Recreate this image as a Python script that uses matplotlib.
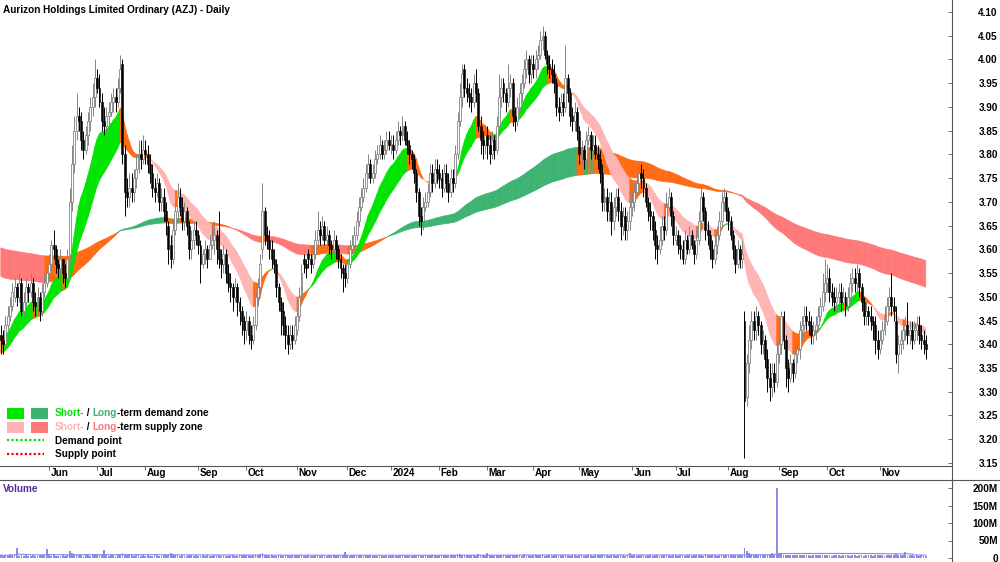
import numpy as np
import pandas as pd
import matplotlib
matplotlib.use("Agg")
import matplotlib.pyplot as plt
from matplotlib.collections import PolyCollection
from matplotlib import transforms

# ---------------- data (prices in cents, volume in millions) ----------------
title = "Aurizon Holdings Limited Ordinary (AZJ) - Daily"
start_date, end_date = "2023-05-03", "2024-11-29"
asx_holidays = ["2023-06-12", "2023-12-25", "2023-12-26", "2024-01-01", "2024-01-26",
                "2024-03-29", "2024-04-01", "2024-04-25", "2024-06-10"]

closes = [
    341,340,344,346,348,351,352,350,353,347,349,352,351,353,349,348,350,347,351,353,355,
    357,361,360,357,356,358,355,354,358,370,378,385,388,387,383,381,384,387,390,392,396,
    394,391,387,386,388,389,391,392,391,394,398,380,372,371,373,372,375,377,380,379,381,
    380,378,376,373,372,374,370,371,368,366,360,358,364,368,371,369,366,368,365,360,362,364,363,
    361,357,359,360,358,361,362,363,360,358,357,359,355,353,352,350,352,349,347,345,343,
    345,342,341,344,350,352,357,368,363,362,360,358,357,352,349,347,344,342,340,342,341,344,
    346,350,355,357,356,358,357,359,362,364,363,365,362,363,361,360,362,360,358,356,355,354,
    357,360,361,363,366,369,371,373,376,378,375,376,379,380,382,380,381,383,382,
    382,381,383,385,384,386,383,382,380,379,376,372,367,366,369,370,372,376,374,377,376,
    375,373,376,374,372,375,374,380,387,392,397,394,393,392,391,395,393,386,383,382,384,
    382,380,383,381,386,392,394,393,391,394,395,388,387,390,393,395,398,400,397,399,
    398,400,401,404,405,401,399,398,397,395,390,389,391,390,396,393,388,387,389,385,
    380,381,379,383,384,381,382,380,379,376,370,371,368,370,366,369,371,368,365,367,364,366,369,
    370,372,374,376,375,373,370,368,367,364,361,360,362,365,364,369,371,367,363,
    363,361,360,358,362,360,363,361,359,362,366,371,368,364,363,360,358,361,363,366,370,371,368,
    366,363,360,357,360,358,359,328,336,341,345,343,346,344,340,341,337,333,331,334,332,338,
    340,346,341,335,333,336,334,338,339,343,344,346,345,344,342,343,344,346,348,351,353,
    354,351,350,349,350,351,349,350,348,350,353,354,353,355,352,349,346,347,346,345,344,341,339,
    341,343,345,348,350,348,347,338,340,341,343,344,342,343,341,343,344,342,341,340,339,
]
opens = [
    342,341,340,344,346,348,350,352,350,353,347,349,352,351,353,349,348,350,347,351,353,
    355,357,361,360,357,356,358,355,354,359,370,378,385,388,387,383,381,384,387,390,392,
    396,394,391,387,386,388,389,391,392,391,394,399,380,372,371,373,372,375,377,380,379,
    381,380,378,376,373,372,374,370,371,368,365,361,358,364,368,371,369,366,368,365,360,362,364,
    363,361,357,359,360,358,361,362,363,360,358,357,359,355,353,352,350,352,349,347,345,
    343,345,342,341,344,350,352,360,368,363,362,360,358,357,352,349,347,344,342,340,342,341,
    343,346,350,358,357,359,358,357,359,362,364,363,365,362,363,361,360,362,360,358,356,355,
    354,357,360,361,363,366,369,371,373,376,378,375,376,379,380,382,380,381,383,
    382,382,381,383,385,384,386,383,382,380,379,376,372,367,366,369,370,372,376,374,377,
    376,375,373,376,374,372,375,374,380,387,392,398,394,393,392,391,395,393,386,383,382,
    384,382,380,383,381,386,392,395,393,391,394,395,388,387,390,393,395,398,400,397,
    399,398,400,401,404,405,401,399,398,397,395,390,389,391,390,396,393,388,387,389,
    385,380,381,379,383,384,381,382,380,379,376,370,371,368,370,366,369,371,368,365,367,364,366,
    369,370,372,374,376,375,373,370,368,367,364,361,360,362,365,364,369,371,367,
    362,363,361,360,358,362,360,363,361,359,362,366,371,368,364,363,360,358,361,363,366,370,371,
    368,366,363,360,357,360,358,345,329,336,341,345,343,346,344,340,341,337,333,331,334,332,
    338,340,346,341,335,333,336,334,338,339,343,344,346,345,344,342,343,344,346,348,351,
    353,354,351,350,349,350,351,349,350,348,350,353,354,353,355,352,349,346,347,346,345,344,341,
    339,341,343,345,348,350,348,345,338,340,341,343,344,342,343,341,343,344,342,341,340,
]
highs = [
    344,343,346,348,350,353,354,353,355,354,351,354,353,355,354,351,352,351,353,355,357,
    359,362,364,361,358,360,358,357,360,373,382,388,393,390,389,385,386,389,392,395,400,
    398,397,393,390,390,391,393,394,394,396,401,400,382,375,376,376,377,380,383,383,384,
    383,382,380,378,375,376,375,373,373,370,366,363,366,370,374,373,371,370,369,366,364,366,366,
    364,362,360,362,361,363,364,366,364,368,360,361,360,357,355,353,354,353,350,348,346,
    347,346,344,346,351,354,359,374,369,365,364,362,360,358,353,350,349,346,344,344,344,346,
    348,352,357,359,358,360,359,361,364,368,366,367,366,365,364,362,364,363,361,359,357,357,
    358,362,363,365,368,371,373,375,378,380,379,378,381,382,384,383,383,385,385,
    384,384,385,387,386,388,387,385,383,381,380,377,373,369,371,372,374,378,378,379,379,
    378,377,378,378,376,377,377,382,389,395,399,399,396,395,394,397,398,394,388,385,386,
    386,384,385,384,388,397,396,396,394,399,397,396,390,392,395,397,400,402,401,401,
    401,402,403,406,407,406,402,401,400,399,396,392,393,393,403,397,394,390,391,390,
    386,383,382,385,386,385,384,384,382,381,378,373,373,372,372,371,373,373,370,369,369,368,371,
    372,374,376,378,378,377,374,371,370,368,366,363,365,367,367,372,373,372,368,
    365,364,363,362,364,363,365,364,362,364,368,373,372,369,366,364,362,363,365,368,372,373,372,
    369,367,364,361,362,361,362,347,338,344,347,347,348,347,345,343,342,339,336,336,336,340,
    342,347,347,342,337,338,337,340,341,345,346,348,348,347,346,345,346,348,350,355,358,
    357,356,353,352,352,353,353,352,351,352,355,356,356,357,356,353,350,349,348,348,346,346,343,
    343,345,348,350,352,355,350,348,342,343,345,346,349,345,345,345,346,346,344,343,342,
]
lows = [
    338,338,339,343,345,347,349,348,349,346,346,348,349,350,347,346,347,345,346,350,352,
    354,356,358,355,354,355,353,352,353,357,368,376,383,385,381,379,380,382,385,388,390,
    393,390,385,384,385,386,388,389,389,390,393,378,367,369,369,370,370,373,376,377,378,
    378,376,374,371,370,371,368,368,366,363,357,356,357,363,366,367,364,364,363,358,358,360,361,
    359,353,356,357,356,358,360,359,357,356,354,355,353,351,349,347,349,346,344,342,340,
    341,340,339,340,343,348,351,358,361,360,358,356,355,350,347,342,342,339,338,339,339,340,
    342,345,349,355,354,356,355,356,358,361,361,362,361,360,359,358,359,358,356,354,351,352,
    353,356,359,360,362,365,368,370,372,375,374,374,375,378,379,379,379,380,381,
    380,379,380,382,382,383,382,380,378,377,374,370,365,363,364,368,369,371,372,373,374,
    373,371,372,372,370,371,372,373,379,386,390,392,391,390,389,390,391,385,380,379,380,
    379,378,379,379,380,385,390,391,389,390,392,386,385,386,389,391,394,396,395,395,
    396,396,398,400,402,400,397,396,395,393,388,387,388,388,389,391,386,385,385,383,
    378,378,377,378,382,379,379,379,377,374,368,368,366,366,363,364,367,366,362,363,362,362,364,
    367,368,371,373,373,371,369,366,364,362,358,357,359,361,362,363,368,365,361,
    361,359,358,357,357,359,359,360,357,358,361,365,366,362,361,358,356,357,359,362,365,368,366,
    364,362,358,355,356,356,356,316,327,334,339,341,341,342,338,338,335,330,328,329,330,331,
    336,338,339,331,330,332,332,333,336,337,341,343,343,342,340,340,341,343,345,347,349,
    351,349,348,347,347,348,347,347,346,347,349,351,351,351,350,347,344,344,344,343,341,338,337,
    338,340,342,344,347,346,345,336,334,338,339,341,340,340,339,340,341,340,339,338,337,
]
volume_m = [
    9,7,8,6,12,10,8,30,7,8,7,9,6,7,8,6,7,9,8,10,25,
    8,7,9,6,7,6,8,7,9,20,14,12,9,10,8,7,9,8,7,10,12,
    9,8,10,22,8,7,9,8,7,9,11,14,12,10,8,9,7,8,9,7,8,
    7,8,6,7,9,8,6,7,8,9,10,15,12,9,8,7,8,7,6,8,9,7,8,
    7,6,8,7,9,6,7,8,10,9,7,8,6,7,9,8,7,6,8,9,10,
    9,8,7,9,10,8,12,14,9,8,7,8,6,7,9,8,7,8,9,7,8,9,
    10,9,8,7,9,8,7,6,8,9,7,8,6,7,8,7,9,10,8,7,9,17,
    8,7,9,8,10,9,8,7,9,10,8,7,6,7,5,6,5,6,7,
    7,8,6,7,9,8,7,8,6,7,9,10,8,7,9,8,7,8,9,8,7,
    8,7,9,8,7,9,8,10,12,11,9,8,10,8,9,8,7,12,9,8,10,
    15,9,8,7,9,10,8,9,7,8,9,8,10,9,8,7,12,9,8,7,
    8,9,10,9,8,7,9,8,7,9,8,7,8,9,10,8,7,9,8,7,
    8,9,7,8,9,8,7,9,10,8,11,9,8,7,9,8,7,8,9,8,7,9,14,
    9,8,7,9,10,8,7,9,8,7,9,8,7,9,10,8,9,7,8,
    8,7,9,8,7,9,8,7,9,10,8,9,7,8,9,10,8,9,7,8,9,10,9,
    10,9,8,9,8,9,10,29,20,14,12,10,11,9,10,12,9,10,11,14,12,200,
    12,11,10,9,10,8,9,10,9,8,9,10,9,8,7,9,8,10,9,8,9,
    9,8,7,8,9,8,7,8,9,8,7,9,8,7,9,8,7,8,9,8,7,8,9,
    8,9,7,8,9,10,9,12,9,8,9,16,7,9,8,7,8,7,9,6,5,
]
# band indicator settings (EMA periods) and starting levels read at the left edge
short_periods = (14, 28)
long_periods = (130, 230)
short_seed = (3.42, 3.38)
long_seed = (3.545, 3.605)
price_ticks = [3.15, 3.20, 3.25, 3.30, 3.35, 3.40, 3.45, 3.50, 3.55, 3.60, 3.65, 3.70,
               3.75, 3.80, 3.85, 3.90, 3.95, 4.00, 4.05, 4.10]
vol_ticks = [0, 50, 100, 150, 200]
vol_tick_labels = ["0", "50M", "100M", "150M", "200M"]

# ---------------- prep ----------------
o = np.array(opens) / 100.0
h = np.array(highs) / 100.0
l = np.array(lows) / 100.0
c = np.array(closes) / 100.0
v = np.array(volume_m, dtype=float)
n = len(c)
idx = np.arange(n)
dates = pd.bdate_range(start_date, end_date, freq="C", holidays=asx_holidays)[:n]


def ema(vals, period, seed):
    a = 2.0 / (period + 1)
    out = np.empty(len(vals))
    prev = seed
    for i, val in enumerate(vals):
        prev = prev + a * (val - prev)
        out[i] = prev
    return out


FONT = "Liberation Sans"
plt.rcParams["font.family"] = [FONT, "DejaVu Sans"]
FS = 7.2

GREEN_S = "#00e400"
GREEN_L = "#3cb371"
PINK_S = "#ffb4b4"
RED_L = "#ff7878"
ORANGE = "#ff6a14"

fig = plt.figure(figsize=(10, 5.62), dpi=100)
H_PX = 562.0
ax = fig.add_axes([0, 1 - 466 / H_PX, 0.952, 466 / H_PX])
axv = fig.add_axes([0, 0, 0.952, 82 / H_PX])
xlim = (-0.344, 414.4)


def band(axis, fast, slow, up_col, dn_col):
    polys, cols = [], []
    for i in range(1, len(fast)):
        rising = fast[i] >= fast[i - 1]
        if fast[i] > slow[i] and rising:
            col = up_col
        elif fast[i] < slow[i] and not rising:
            col = dn_col
        else:
            col = ORANGE
        polys.append([(i - 1, fast[i - 1]), (i, fast[i]), (i, slow[i]), (i - 1, slow[i - 1])])
        cols.append(col)
    pc = PolyCollection(polys, facecolors=cols, edgecolors=cols, linewidths=0.4, zorder=1)
    axis.add_collection(pc)


lf = ema(c, long_periods[0], long_seed[0])
ls = ema(c, long_periods[1], long_seed[1])
sf = ema(c, short_periods[0], short_seed[0])
ss = ema(c, short_periods[1], short_seed[1])
band(ax, lf, ls, GREEN_L, RED_L)
band(ax, sf, ss, GREEN_S, PINK_S)

# candles
CG = "#858585"
up = c >= o
wick_cols = np.where(up, CG, "#000000")
ax.vlines(idx, l, h, colors=wick_cols, linewidth=0.7, zorder=3)
body = np.where(np.abs(c - o) < 0.002, 0.002, c - o)
ax.bar(idx[up], body[up], bottom=o[up], width=0.85, color="white", edgecolor=CG,
       linewidth=0.6, zorder=4)
ax.bar(idx[~up], body[~up], bottom=o[~up], width=0.85, color="black", edgecolor="black",
       linewidth=0.4, zorder=4)

ax.set_xlim(*xlim)
ax.set_ylim(4.10 - (466 - 12) / 474.7, 4.10 + 12 / 474.7)
for s in ["left", "top", "right"]:
    ax.spines[s].set_visible(False)
ax.spines["bottom"].set_color("#555555")
ax.spines["bottom"].set_linewidth(0.8)
ax.yaxis.tick_right()
ax.set_yticks(price_ticks)
ax.set_yticklabels([f"{t:.2f}" for t in price_ticks])
ax.tick_params(axis="y", direction="in", length=3, width=0.6, color="#555555", pad=33,
               labelsize=FS)
for t in ax.get_yticklabels():
    t.set_horizontalalignment("right")
    t.set_fontweight("bold")

# month ticks
month_pos, month_lab = [], []
prev_m = dates[0].month
for i, d in enumerate(dates):
    if d.month != prev_m:
        month_pos.append(i)
        month_lab.append("2024" if d.month == 1 else d.strftime("%b"))
        prev_m = d.month
ax.set_xticks(month_pos)
ax.set_xticklabels([])
ax.tick_params(axis="x", direction="out", length=3, width=0.6, color="#555555")
btr = transforms.blended_transform_factory(ax.transData, fig.transFigure)
for p, lab in zip(month_pos, month_lab):
    ax.text(p + 0.6, 1 - 473.5 / H_PX, lab, transform=btr, ha="left", va="center",
            fontsize=FS, fontweight="bold", clip_on=False)

# volume
axv.bar(idx, v, width=0.8, color="#8c8ce4", linewidth=0)
vma = pd.Series(v).rolling(60, min_periods=1).mean().values
axv.plot(idx, vma, color="#8c8ce4", linewidth=0.8)
axv.set_xlim(*xlim)
axv.set_ylim(-4 * 200 / 70, 78 * 200 / 70)
for s in ["left", "top", "right", "bottom"]:
    axv.spines[s].set_visible(False)
axv.set_xticks([])
axv.yaxis.tick_right()
axv.set_yticks(vol_ticks)
axv.set_yticklabels(vol_tick_labels)
axv.tick_params(axis="y", direction="in", length=3, width=0.6, color="#555555", pad=33,
                labelsize=FS)
for t in axv.get_yticklabels():
    t.set_horizontalalignment("right")
    t.set_fontweight("bold")
fig.text(3 / 1000, 1 - 489 / H_PX, "Volume", color="#5a2a9a", fontsize=FS,
         fontweight="bold", va="center", ha="left")

# frame lines
fig.add_artist(plt.Line2D([0.952, 0.952], [0, 1], transform=fig.transFigure,
                          color="#555555", linewidth=0.8))
fig.add_artist(plt.Line2D([0, 1], [1 - 480 / H_PX, 1 - 480 / H_PX], transform=fig.transFigure,
                          color="#555555", linewidth=0.8))

# title
fig.text(3 / 1000, 1 - 10 / H_PX, title, fontsize=FS, fontweight="bold", va="center",
         ha="left")

# legend
renderer = fig.canvas.get_renderer()


def colored_line(x_px, y_px, pieces):
    x = x_px / 1000
    for txt, col in pieces:
        t = fig.text(x, 1 - y_px / H_PX, txt, color=col, fontsize=FS, fontweight="bold",
                     va="center", ha="left")
        ext = t.get_window_extent(renderer)
        x = ext.x1 / fig.bbox.width


def patch(x0, x1, y0, y1, col):
    fig.add_artist(plt.Rectangle((x0 / 1000, 1 - y1 / H_PX), (x1 - x0) / 1000, (y1 - y0) / H_PX,
                                 transform=fig.transFigure, color=col, linewidth=0))


patch(7, 24, 408, 419, GREEN_S)
patch(31, 48, 408, 419, GREEN_L)
patch(7, 24, 422, 433, PINK_S)
patch(31, 48, 422, 433, RED_L)
colored_line(55, 413.5, [("Short-", GREEN_S), (" / ", "black"), ("Long", GREEN_L),
                         ("-term demand zone", "black")])
colored_line(55, 427.5, [("Short-", PINK_S), (" / ", "black"), ("Long", RED_L),
                         ("-term supply zone", "black")])
fig.add_artist(plt.Line2D([7 / 1000, 44 / 1000], [1 - 440 / H_PX] * 2, transform=fig.transFigure,
                          color="#00dd00", linewidth=1.6, linestyle=(0, (1, 1))))
fig.add_artist(plt.Line2D([7 / 1000, 44 / 1000], [1 - 454 / H_PX] * 2, transform=fig.transFigure,
                          color="#ff0000", linewidth=1.6, linestyle=(0, (1, 1))))
colored_line(55, 440.5, [("Demand point", "black")])
colored_line(55, 454, [("Supply point", "black")])

fig.savefig("out.png", dpi=100, facecolor="white")
